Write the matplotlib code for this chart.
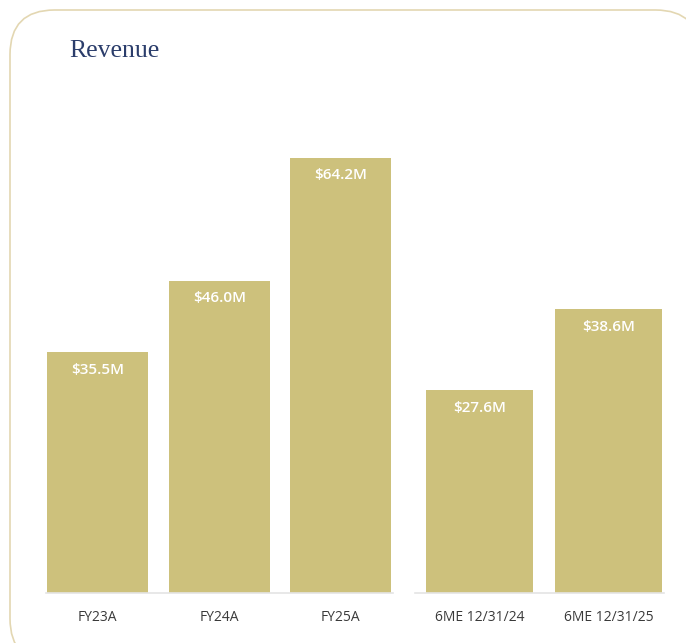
import matplotlib

matplotlib.use("Agg")
import matplotlib.pyplot as plt
from matplotlib.patches import FancyBboxPatch

fy_labels = ["FY23A", "FY24A", "FY25A"]
fy_values = [35.5, 46.0, 64.2]
six_labels = ["6ME 12/31/24", "6ME 12/31/25"]
six_values = [27.6, 38.6]

W, H = 686, 643
BAR = "#cdc17c"
GRID = "#e4e4e4"


def px(x0, y0, x1, y1):
    return [x0 / W, 1 - y1 / H, (x1 - x0) / W, (y1 - y0) / H]


fig = plt.figure(figsize=(W / 100, H / 100), dpi=100)
fig.patch.set_facecolor("white")

card = FancyBboxPatch(
    (10 / W, -20 / H), 690 / W, 653 / H,
    boxstyle="round,pad=0,rounding_size=0.065",
    transform=fig.transFigure, facecolor="white",
    edgecolor="#e3d7b2", linewidth=1.2, mutation_aspect=W / H, zorder=-5,
)
fig.patches.append(card)

fig.text(69 / W, 1 - 51 / H, "Revenue", fontsize=18.5, color="#2b3d6b",
         family="Liberation Serif", va="center", ha="left")


def panel(rect, labels, values, xlim, top):
    ax = fig.add_axes(rect)
    ax.set_facecolor("none")
    xs = range(len(values))
    ax.bar(xs, values, width=0.83, color=BAR)
    ax.set_xlim(*xlim)
    ax.set_ylim(0, top)
    for s in ("top", "right", "left"):
        ax.spines[s].set_visible(False)
    ax.spines["bottom"].set_color(GRID)
    ax.spines["bottom"].set_linewidth(1.2)
    ax.set_yticks([])
    ax.set_xticks(list(xs))
    ax.set_xticklabels(labels, family="Open Sans", fontsize=10, color="#3a3a3a")
    ax.tick_params(axis="x", length=0, pad=12)
    for x, v in zip(xs, values):
        ax.annotate(f"${v:.1f}M", (x, v), xytext=(0, -12.5),
                    textcoords="offset points", ha="center", va="center",
                    color="white", fontweight="semibold", family="Open Sans",
                    fontsize=11)
    return ax


panel(px(46, 100, 393, 593), fy_labels, fy_values, (-0.425, 2.43), 72.7)
panel(px(415, 100, 664, 593), six_labels, six_values, (-0.5, 1.43), 67.1)

fig.savefig("out.png", dpi=100)
